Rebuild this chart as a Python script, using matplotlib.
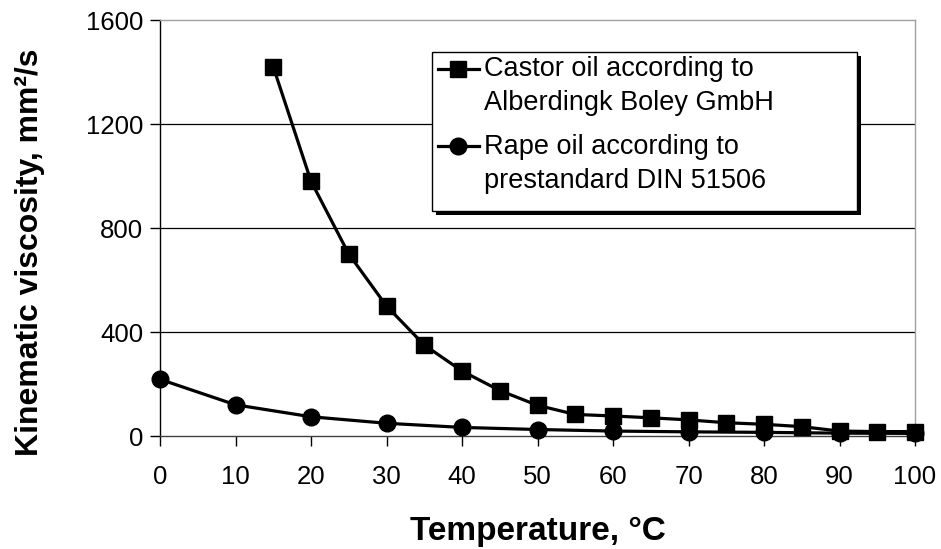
import numpy as np
import matplotlib.pyplot as plt
from matplotlib.patches import Rectangle
from matplotlib.lines import Line2D
from matplotlib.legend_handler import HandlerLine2DCompound

plt.rcParams['font.family'] = ['Liberation Sans', 'DejaVu Sans']

# temperatures, °C
castor_x = [15, 20, 25, 30, 35, 40, 45, 50, 55, 60, 65, 70, 75, 80, 85, 90, 95, 100]
castor_y = [1420, 980, 700, 500, 350, 250, 175, 118, 83, 77, 70, 62, 51, 45, 36, 19, 17, 17]

rape_x = [0, 10, 20, 30, 40, 50, 60, 70, 80, 90, 100]
rape_y = [218, 120, 74, 49, 33, 25, 19, 16, 14, 11, 10]

x_ticks = [0, 10, 20, 30, 40, 50, 60, 70, 80, 90, 100]
y_ticks = [0, 400, 800, 1200, 1600]

W, H = 941, 549
fig = plt.figure(figsize=(W / 100, H / 100), dpi=100)
ax = fig.add_axes([160 / W, 1 - 436 / H, 755 / W, 416 / H])

for y in y_ticks[1:-1]:
    ax.axhline(y, color='black', lw=0.9, zorder=1)

ax.plot(castor_x, castor_y, c='black', lw=2.3, marker='s', ms=11.5,
        label='Castor oil according to\nAlberdingk Boley GmbH', clip_on=False, zorder=3)
ax.plot(rape_x, rape_y, c='black', lw=2.3, marker='o', ms=12,
        label='Rape oil according to\nprestandard DIN 51506', clip_on=False, zorder=3)

ax.set_xlim(0, 100)
ax.set_ylim(0, 1600)
ax.set_xticks(x_ticks)
ax.set_yticks(y_ticks)
ax.tick_params(labelsize=18.5, length=7, width=1, color='black')
ax.tick_params(axis='y', pad=5)
ax.tick_params(axis='x', pad=14)

ax.spines['left'].set_color('black')
ax.spines['bottom'].set_color('#404040')
ax.spines['top'].set_color('#a0a0a0')
ax.spines['right'].set_color('#a0a0a0')
for s in ax.spines.values():
    s.set_linewidth(1)

ax.set_xlabel('Temperature, °C', fontsize=24, fontweight='bold')
ax.set_ylabel('Kinematic viscosity, mm²/s', fontsize=23, fontweight='bold')
ax.xaxis.set_label_coords(0.5, (436 - 516) / 416)
ax.yaxis.set_label_coords((45 - 160) / 755, (436 - 252) / 416)

# legend box with black drop shadow (drawn by hand so its width matches)
bx0, by0, bx1, by1 = 432, 52, 857, 211
ax.add_patch(Rectangle(((bx0 + 4) / W, 1 - (by1 + 4) / H), (bx1 - bx0) / W, (by1 - by0) / H,
                       transform=fig.transFigure, facecolor='black', edgecolor='none',
                       clip_on=False, zorder=5))
ax.add_patch(Rectangle((bx0 / W, 1 - by1 / H), (bx1 - bx0) / W, (by1 - by0) / H,
                       transform=fig.transFigure, facecolor='white', edgecolor='black',
                       lw=1, clip_on=False, zorder=6))

leg = ax.legend(loc='upper left', bbox_to_anchor=((bx0 - 2) / W, 1 - (by0 - 4) / H),
                bbox_transform=fig.transFigure, fontsize=19.5, frameon=False,
                handlelength=1.5, handletextpad=0.2, borderpad=0.3,
                labelspacing=0.66, borderaxespad=0,
                handler_map={Line2D: HandlerLine2DCompound()})
leg.set_zorder(7)
for t in leg.get_texts():
    t.set_linespacing(1.4)
# put the legend symbols (line and marker) level with the first line of each label
for h in leg.findobj(Line2D):
    h.set_ydata(np.asarray(h.get_ydata()) + 13)

plt.savefig('out.png', dpi=100)
